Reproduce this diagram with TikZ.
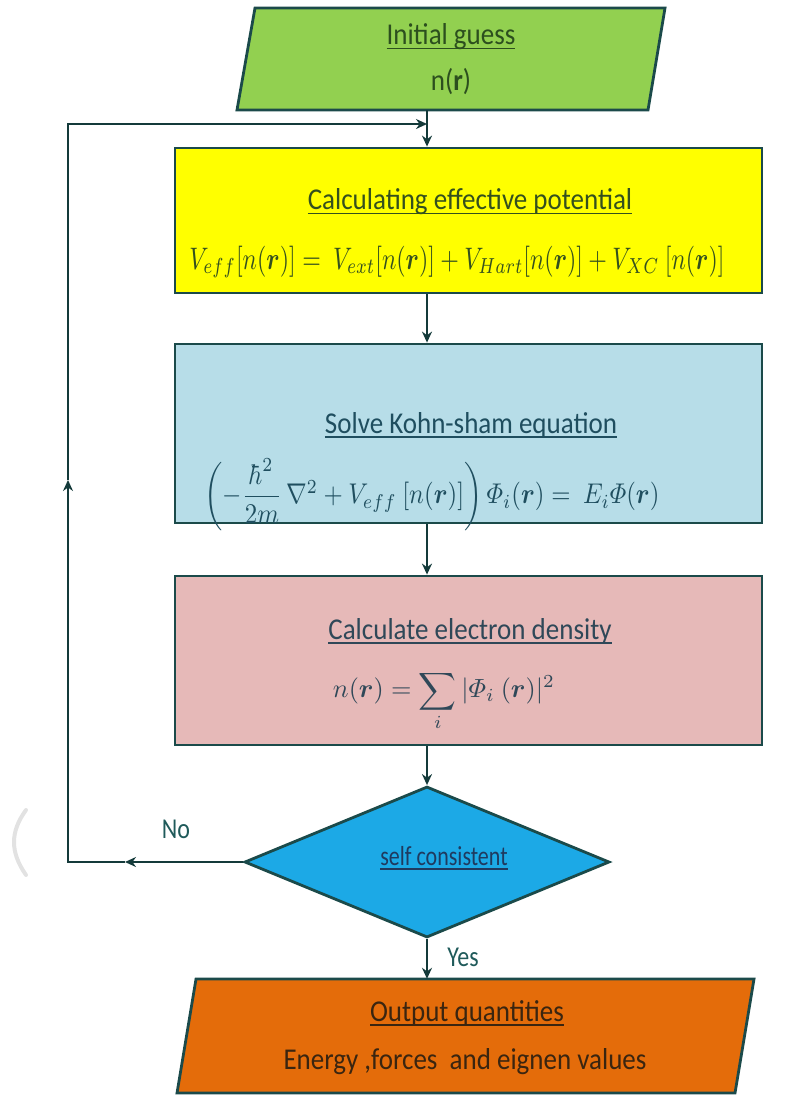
\documentclass[tikz,border=0pt]{standalone}
\usepackage{amsmath,bm}
\usepackage{fontspec}
\setmainfont{Carlito}
\usetikzlibrary{arrows.meta,calc,shapes.geometric}
\definecolor{edgec}{HTML}{143A3A}
\definecolor{borderc}{HTML}{1B4A4A}
\definecolor{greenf}{HTML}{92D050}
\definecolor{yellowf}{HTML}{FFFF00}
\definecolor{bluef}{HTML}{B7DDE8}
\definecolor{pinkf}{HTML}{E6B9B8}
\definecolor{diaf}{HTML}{1CA9E6}
\definecolor{orangef}{HTML}{E46C0A}
\definecolor{tgreen}{HTML}{2C4F1E}
\definecolor{tyellow}{HTML}{34501E}
\definecolor{tblue}{HTML}{1F4E5F}
\definecolor{tpink}{HTML}{2F4858}
\definecolor{tdia}{HTML}{1F3A5F}
\definecolor{torange}{HTML}{3A2510}
\definecolor{tlab}{HTML}{1F5A5A}
\definecolor{ghost}{HTML}{E2E2E2}
\newcommand{\vs}[1]{\scalebox{1}[1.12]{#1}}
\newsavebox{\ulbox}
\newcommand{\myul}[1]{\sbox{\ulbox}{#1}\rlap{\rule[-4pt]{\wd\ulbox}{1.5pt}}\usebox{\ulbox}}
\begin{document}
\begin{tikzpicture}[x=1pt,y=-1pt,
  line/.style={line width=2.5pt, draw=edgec},
  flow/.style={line width=2.5pt, draw=edgec, -{Stealth[length=11pt,width=10pt]}},
  boxstyle/.style={draw=borderc, line width=2.8pt, minimum width=587pt, inner sep=0pt},
  shapeline/.style={draw=borderc, line width=2.8pt, line join=miter},
  txt/.style={inner sep=0pt, font=\fontsize{27}{30}\selectfont},
  mtxt/.style={inner sep=0pt},
  hole/.style={inner sep=0pt, minimum width=410pt}
]
\useasboundingbox (0,0) rectangle (793,1095);
% faint artifact
\draw[ghost, line width=4pt, line cap=round] (26,810) .. controls (10,832) and (10,852) .. (26,875);

% spine coordinates
\coordinate (spine) at (427,0);
\coordinate (fbL) at (68,0);

% initial guess parallelogram
\path[shapeline, fill=greenf] (255,8) -- (665,8) -- (648,110) -- (237,110) -- cycle;
\node[hole, minimum height=102pt] (init) at (451,59) {};
\node[txt, text=tgreen] (initT) at (451,37) {\vs{\myul{Initial guess}}};
\node[txt, text=tgreen] (initN) at (451,82) {\vs{n(\textbf{r})}};

% effective potential
\node[boxstyle, fill=yellowf, minimum height=145pt] (calc) at (468.5,220.5) {};
\node[txt, text=tyellow] (calcT) at (470,202) {\vs{\myul{Calculating effective potential}}};
\node[mtxt, text=tyellow] (calcE) at (457,262) {\scalebox{1}[1.3]{\resizebox{535pt}{!}{$V_{eff}[n(\bm{r})] = \ V_{ext}[n(\bm{r})] + V_{Hart}[n(\bm{r})] + V_{XC}\ [n(\bm{r})]$}}};

% Kohn-Sham
\node[boxstyle, fill=bluef, minimum height=179pt] (ks) at (468.5,433.5) {};
\node[txt, text=tblue] (ksT) at (471,425) {\vs{\myul{Solve Kohn-sham equation}}};
\node[mtxt, text=tblue] (ksE) at (432,495) {\scalebox{1}[1.15]{\resizebox{455pt}{!}{$\left(-\dfrac{\hbar^2}{2m}\,\nabla^2 + V_{eff}\ [n(\bm{r})]\right)\varPhi_i(\bm{r}) = \ E_i\varPhi(\bm{r})$}}};

% density
\node[boxstyle, fill=pinkf, minimum height=169pt] (dens) at (468.5,660.5) {};
\node[txt, text=tpink] (densT) at (470,631) {\vs{\myul{Calculate electron density}}};
\node[mtxt, text=tpink] (densE) at (444,701) {\resizebox{222pt}{!}{$n(\bm{r}) = \displaystyle\sum_i |\varPhi_i\ (\bm{r})|^2$}};

% self consistent
\node[diamond, draw=borderc, line width=2.8pt, fill=diaf, minimum width=365pt, minimum height=151pt, inner sep=0pt] (sc) at (427,862) {};
\node[txt, text=tdia, font=\fontsize{22}{26}\selectfont] (scT) at (444,858) {\scalebox{1}[1.25]{\myul{self consistent}}};

% output
\path[shapeline, fill=orangef] (196,979) -- (754,979) -- (735,1093) -- (177,1093) -- cycle;
\node[hole, minimum width=558pt, minimum height=114pt] (out) at (465.5,1036) {};
\node[txt, text=torange] (outT) at (467,1013) {\vs{\myul{Output quantities}}};
\node[txt, text=torange] (outE) at (465,1062) {\vs{Energy ,forces \ and eignen values}};

% labels
\node[txt, text=tlab, font=\fontsize{24}{28}\selectfont] (no) at (176,829) {\scalebox{1}[1.2]{No}};
\node[txt, text=tlab, font=\fontsize{24}{28}\selectfont] (yes) at (463,957) {\scalebox{1}[1.2]{Yes}};

% connectors
\draw[flow] (init.south -| spine) -- (calc.north -| spine);
\draw[flow] (calc.south -| spine) -- (ks.north -| spine);
\draw[flow] (ks.south -| spine) -- (dens.north -| spine);
\draw[flow] (dens.south -| spine) -- (sc.north);
\draw[flow] (sc.south) -- (out.north -| spine);

% feedback loop
\coordinate (noA) at (125,862);
\coordinate (upA) at (68,480);
\coordinate (fbTL) at (68,124);
\draw[flow] (sc.west) -- (noA);
\draw[flow] (noA) -- (sc.west -| fbL) -- (upA);
\draw[flow] (upA) -- (fbTL) -- (spine |- fbTL);
\end{tikzpicture}
\end{document}
